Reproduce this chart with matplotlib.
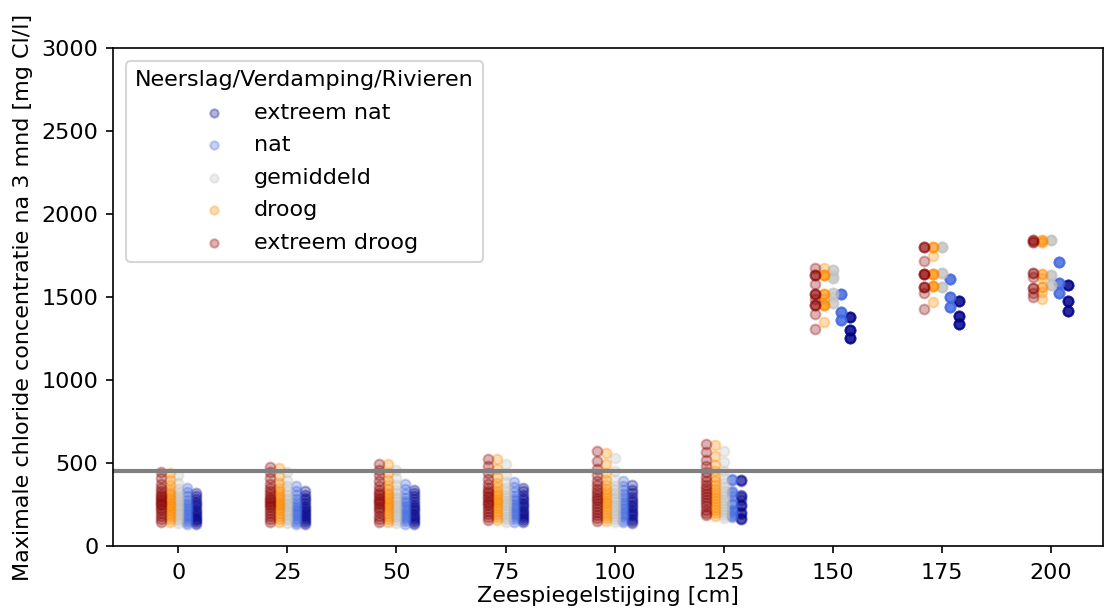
import matplotlib
matplotlib.use("Agg")
import matplotlib.pyplot as plt

# Sea level rise categories [cm]
zeespiegel = [0, 25, 50, 75, 100, 125, 150, 175, 200]

series_names = ["extreem nat", "nat", "gemiddeld", "droog", "extreem droog"]
series_colors = ["darkblue", "royalblue", "silver", "darkorange", "darkred"]
series_offsets = [4, 2, 0, -2, -4]

# ---- extreem nat ----
extreem_nat = [
    [130, 142, 155, 165, 175, 188, 200, 212, 225, 238, 252, 268, 285, 300, 320],
    [130, 142, 154, 166, 178, 190, 203, 216, 229, 243, 258, 275, 292, 310, 330],
    [135, 146, 158, 170, 182, 195, 208, 221, 235, 249, 264, 281, 299, 318, 337],
    [145, 157, 169, 181, 193, 206, 219, 232, 246, 260, 275, 292, 310, 330, 350],
    [140, 152, 165, 178, 191, 205, 219, 233, 248, 263, 279, 297, 318, 340, 365],
    [398, 395, 390, 305, 300, 295, 280, 250, 245, 240, 205, 200, 195, 170, 165, 165],
    [1381, 1381, 1381, 1381, 1381, 1301, 1301, 1301, 1301, 1301, 1251, 1251, 1251, 1251, 1251],
    [1478, 1478, 1478, 1478, 1478, 1387, 1387, 1387, 1387, 1387, 1337, 1337, 1337, 1337, 1337],
    [1572, 1572, 1572, 1572, 1572, 1476, 1476, 1476, 1476, 1476, 1416, 1416, 1416, 1416, 1416],
]

# ---- nat ----
nat = [
    [132, 145, 158, 170, 182, 195, 208, 220, 232, 245, 260, 278, 300, 325, 350],
    [132, 145, 158, 171, 184, 197, 210, 223, 236, 250, 266, 285, 308, 333, 360],
    [135, 148, 161, 174, 187, 200, 214, 228, 242, 257, 273, 292, 315, 342, 373],
    [147, 160, 173, 186, 199, 212, 226, 240, 254, 269, 285, 304, 327, 355, 386],
    [145, 158, 172, 186, 200, 215, 230, 245, 260, 276, 293, 313, 337, 362, 390],
    [404, 400, 398, 330, 325, 320, 300, 260, 255, 250, 215, 210, 200, 185, 180, 175],
    [1516, 1516, 1516, 1516, 1516, 1412, 1412, 1412, 1412, 1412, 1361, 1361, 1361, 1361, 1361],
    [1608, 1608, 1608, 1608, 1608, 1502, 1502, 1502, 1502, 1502, 1442, 1442, 1442, 1442, 1442],
    [1709, 1709, 1709, 1709, 1709, 1582, 1582, 1582, 1582, 1582, 1522, 1522, 1522, 1522, 1522],
]

# ---- gemiddeld ----
gemiddeld = [
    [140, 155, 170, 185, 200, 215, 228, 240, 255, 270, 285, 300, 320, 345, 380, 430],
    [140, 155, 170, 186, 202, 217, 232, 246, 260, 275, 292, 310, 332, 360, 400, 445],
    [140, 155, 172, 188, 205, 220, 236, 250, 265, 281, 298, 318, 340, 370, 410, 458],
    [145, 160, 177, 194, 211, 228, 244, 259, 274, 290, 308, 328, 352, 385, 430, 494],
    [145, 160, 178, 196, 214, 232, 249, 265, 281, 298, 317, 338, 364, 398, 450, 530],
    [170, 186, 204, 222, 240, 258, 276, 294, 313, 333, 355, 380, 410, 450, 505, 572],
    [1663, 1663, 1663, 1633, 1614, 1614, 1614, 1524, 1524, 1524, 1500, 1464, 1464, 1464],
    [1800, 1800, 1800, 1800, 1645, 1645, 1645, 1645, 1560, 1560, 1560, 1560],
    [1845, 1845, 1845, 1845, 1630, 1630, 1630, 1630, 1570, 1570, 1570, 1570],
]

# ---- droog ----
droog = [
    [145, 160, 178, 195, 210, 225, 240, 250, 262, 275, 290, 305, 320, 340, 365, 400, 440],
    [145, 160, 180, 198, 214, 230, 244, 256, 268, 282, 296, 312, 330, 352, 380, 420, 470],
    [145, 162, 182, 200, 218, 234, 250, 262, 276, 290, 305, 322, 342, 366, 398, 440, 494],
    [157, 172, 190, 208, 226, 242, 258, 272, 286, 300, 316, 334, 355, 380, 415, 465, 524],
    [150, 166, 185, 204, 223, 241, 258, 274, 290, 307, 325, 346, 370, 400, 440, 495, 560],
    [180, 196, 214, 234, 254, 272, 290, 308, 326, 345, 366, 390, 418, 450, 490, 545, 608],
    [1673, 1633, 1633, 1633, 1633, 1516, 1516, 1516, 1490, 1452, 1452, 1452, 1452, 1351],
    [1800, 1800, 1800, 1747, 1639, 1639, 1639, 1639, 1566, 1566, 1566, 1566, 1472],
    [1845, 1845, 1830, 1830, 1640, 1640, 1615, 1560, 1560, 1530, 1490],
]

# ---- extreem droog ----
extreem_droog = [
    [145, 160, 180, 200, 215, 230, 245, 255, 265, 280, 290, 300, 315, 330, 350, 375, 410, 446],
    [145, 160, 180, 200, 218, 232, 248, 260, 272, 285, 298, 312, 330, 350, 375, 410, 445, 476],
    [145, 162, 182, 202, 220, 236, 252, 265, 278, 292, 306, 322, 340, 362, 390, 425, 460, 494],
    [157, 172, 190, 210, 228, 245, 260, 274, 288, 302, 317, 333, 352, 375, 405, 440, 480, 524],
    [150, 166, 185, 205, 225, 243, 260, 276, 292, 308, 325, 344, 366, 392, 425, 465, 515, 572],
    [186, 200, 218, 238, 258, 276, 294, 312, 330, 348, 368, 390, 415, 445, 480, 520, 565, 614],
    [1673, 1633, 1633, 1633, 1577, 1516, 1516, 1516, 1490, 1452, 1452, 1452, 1396, 1307],
    [1800, 1800, 1800, 1717, 1639, 1639, 1639, 1639, 1558, 1558, 1558, 1522, 1428],
    [1845, 1845, 1830, 1830, 1643, 1643, 1620, 1554, 1554, 1524, 1500],
]

norm_line = 450
yticks = [0, 500, 1000, 1500, 2000, 2500, 3000]

all_series = [extreem_nat, nat, gemiddeld, droog, extreem_droog]

plt.rcParams["font.family"] = ["DejaVu Sans"]
plt.rcParams["font.size"] = 10.7

fig = plt.figure(figsize=(1105 / 150, 614 / 150), dpi=150)
ax = fig.add_axes([113 / 1105, 68 / 614, 990 / 1105, 498 / 614])

for name, color, off, data in zip(series_names, series_colors, series_offsets, all_series):
    xs, ys = [], []
    for z, vals in zip(zeespiegel, data):
        xs.extend([z + off] * len(vals))
        ys.extend(vals)
    ax.scatter(xs, ys, s=22, color=color, alpha=0.3, label=name)

ax.axhline(norm_line, color="gray", linewidth=2)

ax.set_xticks(zeespiegel)
ax.set_yticks(yticks)
ax.set_ylim(0, 3000)
ax.set_xlim(-15, 212)
ax.tick_params(axis="x", pad=4.5)
ax.set_xlabel("Zeespiegelstijging [cm]", labelpad=1.5)
ax.set_ylabel("Maximale chloride concentratie na 3 mnd [mg Cl/l]")

leg = ax.legend(title="Neerslag/Verdamping/Rivieren", loc="upper left",
                markerscale=0.85, labelspacing=0.56, borderaxespad=0.6)

fig.savefig("out.png", dpi=150)
